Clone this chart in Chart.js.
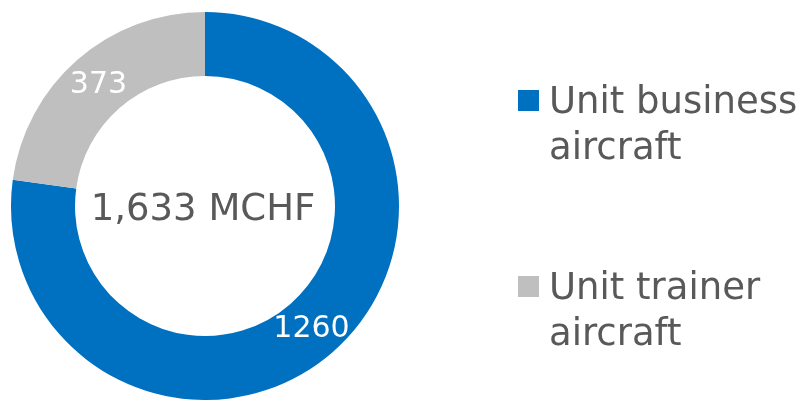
<!DOCTYPE html>
<html>
<head>
<meta charset="utf-8">
<script src="https://cdn.jsdelivr.net/npm/chart.js@4/dist/chart.umd.min.js"></script>
<style>
html,body{margin:0;padding:0;background:#fff;}
#wrap{width:802px;height:400px;position:relative;}
</style>
</head>
<body>
<div id="wrap"><canvas id="c" width="802" height="400"></canvas></div>
<script>
const categories = [["Unit business", "aircraft"], ["Unit trainer", "aircraft"]];
const values = [1260, 373];
const colors = ["#0070C0", "#BFBFBF"];
const centerText = "1,633 MCHF";

const FONT = '"DejaVu Sans", Verdana, sans-serif';
const TEXT = '#595959';

const sliceLabels = {
  id: 'sliceLabels',
  afterDatasetsDraw(chart) {
    const ctx = chart.ctx;
    const meta = chart.getDatasetMeta(0);
    ctx.save();
    ctx.font = '30px ' + FONT;
    ctx.fillStyle = '#ffffff';
    ctx.textAlign = 'center';
    ctx.textBaseline = 'middle';
    meta.data.forEach((arc, i) => {
      const p = arc.tooltipPosition();
      ctx.fillText(String(chart.data.datasets[0].data[i]), p.x, p.y + 1);
    });
    // centre text
    ctx.font = '37px ' + FONT;
    ctx.fillStyle = TEXT;
    ctx.textBaseline = 'alphabetic';
    const a = meta.data[0];
    ctx.fillText(centerText, a.x - 2, a.y + 14);
    ctx.restore();
  }
};

const sideLegend = {
  id: 'sideLegend',
  afterDraw(chart) {
    const ctx = chart.ctx;
    const tops = [90, 276];
    ctx.save();
    chart.data.labels.forEach((lab, i) => {
      const y0 = tops[i];
      ctx.fillStyle = colors[i];
      ctx.fillRect(518, y0, 21, 21);
      ctx.fillStyle = TEXT;
      ctx.font = '37px ' + FONT;
      ctx.textAlign = 'left';
      ctx.textBaseline = 'alphabetic';
      lab.forEach((line, j) => {
        ctx.fillText(line, 549, y0 + 23 + j * 46);
      });
    });
    ctx.restore();
  }
};

new Chart(document.getElementById('c'), {
  type: 'doughnut',
  data: {
    labels: categories,
    datasets: [{
      data: values,
      backgroundColor: colors,
      borderWidth: 0,
      hoverOffset: 0
    }]
  },
  options: {
    responsive: false,
    animation: false,
    cutout: '67%',
    layout: { padding: { left: 11, top: 12, bottom: 0, right: 403 } },
    plugins: {
      legend: { display: false },
      tooltip: { enabled: false }
    }
  },
  plugins: [sliceLabels, sideLegend]
});
</script>
</body>
</html>
